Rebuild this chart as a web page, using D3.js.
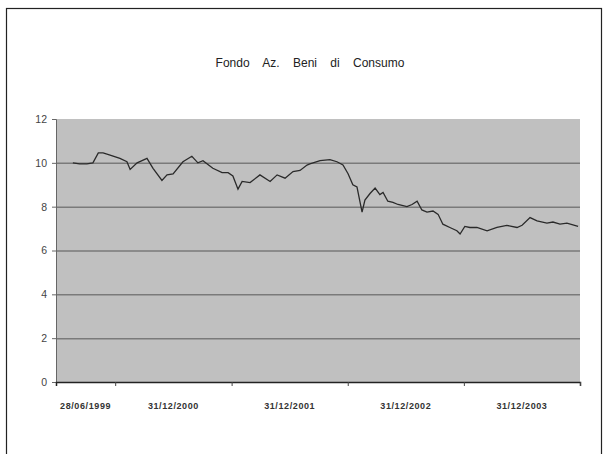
<!DOCTYPE html>
<html>
<head>
<meta charset="utf-8">
<script src="https://cdn.jsdelivr.net/npm/d3@7"></script>
<style>
  body { margin: 0; background: #fff; }
  text { font-family: "Liberation Sans", Arial, sans-serif; }
</style>
</head>
<body>
<div class="chart"></div>
<script>
// chart size
var width = 607;
var height = 454;
var margin = { top: 119, right: 27, bottom: 72, left: 56 };
var plotW = width - margin.left - margin.right;
var plotH = height - margin.top - margin.bottom;

var title = "Fondo Az. Beni di Consumo";

// axis segments (year ends) and their labels
var axisStart = "1999-06-28";
var segmentEnds = ["1999-12-31", "2000-12-31", "2001-12-31", "2002-12-31", "2003-12-31"];
var segmentLabels = ["28/06/1999", "31/12/2000", "31/12/2001", "31/12/2002", "31/12/2003"];
var yTicks = [0, 2, 4, 6, 8, 10, 12];

// series
var dates = [
  "1999-08-20", "1999-09-10", "1999-10-03", "1999-10-22", "1999-11-08", "1999-11-23", "1999-12-15",
  "2000-01-15", "2000-02-06", "2000-02-16", "2000-03-09", "2000-04-09", "2000-04-28", "2000-05-26",
  "2000-06-11", "2000-06-30", "2000-07-31", "2000-08-28", "2000-09-16", "2000-10-02", "2000-11-02",
  "2000-12-01", "2000-12-20", "2001-01-04", "2001-01-20", "2001-02-02", "2001-02-27", "2001-03-30",
  "2001-05-01", "2001-05-23", "2001-06-17", "2001-07-12", "2001-08-03", "2001-08-25", "2001-09-03",
  "2001-10-05", "2001-11-05", "2001-11-27", "2001-12-16", "2002-01-01", "2002-01-16", "2002-01-29",
  "2002-02-07", "2002-02-14", "2002-02-23", "2002-03-11", "2002-03-27", "2002-04-11", "2002-04-21",
  "2002-05-06", "2002-05-22", "2002-06-07", "2002-07-05", "2002-07-21", "2002-08-06", "2002-08-21",
  "2002-09-06", "2002-09-25", "2002-10-11", "2002-10-26", "2002-11-17", "2002-12-09", "2002-12-19",
  "2003-01-03", "2003-01-19", "2003-02-10", "2003-03-14", "2003-04-14", "2003-05-15", "2003-06-16",
  "2003-07-02", "2003-07-27", "2003-08-18", "2003-09-18", "2003-10-07", "2003-10-29", "2003-11-20",
  "2003-12-25"
];
var values = [
  10.0, 9.95, 9.95, 10.0, 10.45, 10.45, 10.35,
  10.2, 10.05, 9.7, 10.0, 10.2, 9.75, 9.2,
  9.45, 9.5, 10.05, 10.3, 10.0, 10.1, 9.75,
  9.55, 9.55, 9.4, 8.8, 9.15, 9.1, 9.45,
  9.15, 9.45, 9.3, 9.6, 9.65, 9.9, 9.95,
  10.1, 10.15, 10.05, 9.9, 9.5, 9.0, 8.9,
  8.25, 7.75, 8.3, 8.6, 8.85, 8.55, 8.65,
  8.25, 8.2, 8.1, 8.0, 8.1, 8.25, 7.85,
  7.75, 7.8, 7.65, 7.2, 7.05, 6.9, 6.75,
  7.1, 7.05, 7.05, 6.9, 7.05, 7.15, 7.05,
  7.15, 7.5, 7.35, 7.25, 7.3, 7.2, 7.25,
  7.1
];

var parse = d3.timeParse("%Y-%m-%d");
var data = dates.map((d, i) => ({ date: parse(d), value: values[i] }));

var svgRoot = d3.select(".chart")
  .append("svg")
  .attr("width", width)
  .attr("height", height);

// outer frame
svgRoot.append("rect")
  .attr("x", 6.5)
  .attr("y", 8.5)
  .attr("width", 595)
  .attr("height", 460)
  .attr("fill", "#fff")
  .attr("stroke", "#222")
  .attr("stroke-width", 1.2);

svgRoot.append("text")
  .attr("x", 310)
  .attr("y", 67)
  .attr("text-anchor", "middle")
  .attr("font-size", 12)
  .attr("fill", "#222")
  .style("word-spacing", "10px")
  .text(title);

const svg = svgRoot.append("g")
  .attr("transform", "translate(" + margin.left + "," + margin.top + ")");

var x = d3.scaleTime()
  .domain([parse(axisStart), parse(segmentEnds[segmentEnds.length - 1])])
  .range([0, plotW]);

var y = d3.scaleLinear()
  .domain([0, 12])
  .range([plotH, 0]);

// plot area
svg.append("rect")
  .attr("width", plotW)
  .attr("height", plotH)
  .attr("fill", "#c0c0c0");

// gridlines
svg.append("g")
  .attr("class", "grid")
  .call(d3.axisLeft(y).tickValues(yTicks.filter(v => v > 0 && v < 12)).tickSize(-plotW).tickFormat(""))
  .call(g => g.select(".domain").remove())
  .call(g => g.selectAll("line").attr("stroke", "#7a7a7a").attr("stroke-width", 1.5));

// y axis
svg.append("g")
  .call(d3.axisLeft(y).tickValues(yTicks).tickSize(4).tickPadding(5))
  .call(g => g.select(".domain").attr("stroke", "#666"))
  .call(g => g.selectAll("line").attr("stroke", "#666"))
  .call(g => g.selectAll("text").attr("font-size", 10.5).attr("fill", "#444")
    .attr("font-family", "Liberation Sans, Arial, sans-serif"));

// x axis
svg.append("g")
  .attr("transform", "translate(0," + plotH + ")")
  .call(d3.axisBottom(x).tickValues(segmentEnds.map(parse)).tickSize(4).tickFormat(""))
  .call(g => g.select(".domain").attr("stroke", "#222").attr("stroke-width", 1.5))
  .call(g => g.selectAll("line").attr("stroke", "#444"));

var bounds = [axisStart].concat(segmentEnds).map(parse);
svg.append("g")
  .selectAll("text")
  .data(segmentLabels)
  .enter()
  .append("text")
  .attr("x", (d, i) => (x(bounds[i]) + x(bounds[i + 1])) / 2)
  .attr("y", plotH + 27)
  .attr("text-anchor", "middle")
  .attr("font-size", 9)
  .attr("font-weight", "bold")
  .attr("fill", "#333")
  .style("letter-spacing", "0.6px")
  .text(d => d);

// series line
var line = d3.line()
  .x(d => x(d.date))
  .y(d => y(d.value));

svg.append("path")
  .datum(data)
  .attr("fill", "none")
  .attr("stroke", "#2a2a2a")
  .attr("stroke-width", 1.3)
  .attr("d", line);
</script>
</body>
</html>
